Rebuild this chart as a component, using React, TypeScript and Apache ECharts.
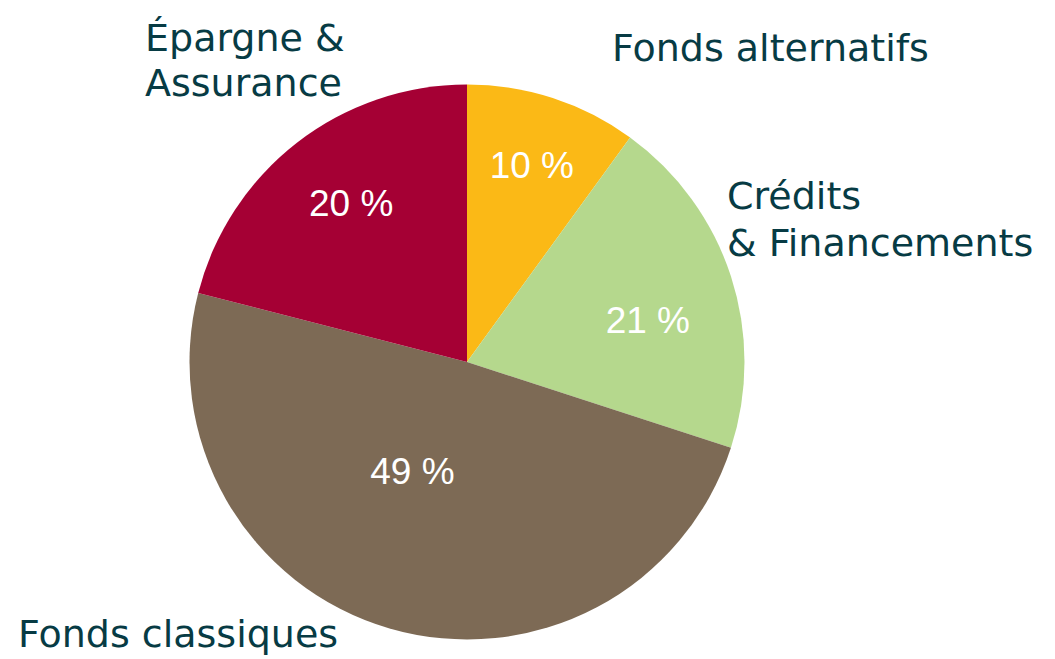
import React, { useEffect, useRef } from "react";
import * as echarts from "echarts";

const categories = ["Fonds alternatifs", "Crédits & Financements", "Fonds classiques", "Épargne & Assurance"];
const values = [10, 20, 49, 21];
const pctLabels = ["10 %", "21 %", "49 %", "20 %"];
const colors = ["#FBB916", "#B5D88D", "#7D6A55", "#A50034"];

// label nudges (layout only)
const labelOffsets = [
  [21, -62],
  [46, 2],
  [-15, -27],
  [-29, -46],
];

const TEXT = "#073B44";
const LABEL_FONT = '38px "DejaVu Sans"';

export default function App() {
  const ref = useRef<HTMLDivElement>(null);
  useEffect(() => {
    if (!ref.current) return;
    const chart = echarts.init(ref.current, undefined, { renderer: "svg" });
    const txt = (text: string, x: number, y: number) => ({
      type: "text",
      style: { text, x, y, font: LABEL_FONT, fill: TEXT, textAlign: "left", textVerticalAlign: "middle" },
    });
    chart.setOption({
      animation: false,
      backgroundColor: "#ffffff",
      series: [
        {
          type: "pie",
          center: [459, 354],
          radius: 277.5,
          startAngle: 90,
          clockwise: true,
          silent: true,
          data: categories.map((name, i) => ({
            name,
            value: values[i],
            itemStyle: { color: colors[i] },
            label: { formatter: pctLabels[i] },
          })),
          label: {
            show: true,
            position: "inside",
            color: "#ffffff",
            fontFamily: '"Liberation Sans Narrow", "Liberation Sans", sans-serif',
            fontSize: 37,
          },
          labelLine: { show: false },
          labelLayout: (p: any) => ({ dx: labelOffsets[p.dataIndex][0], dy: labelOffsets[p.dataIndex][1] }),
        },
      ],
      graphic: [
        txt("Épargne &", 137, 30),
        txt("Assurance", 137, 75),
        txt("Fonds alternatifs", 604, 40),
        txt("Crédits", 719, 188),
        txt("& Financements", 719, 235),
        txt("Fonds classiques", 10, 626),
      ],
    });
    return () => chart.dispose();
  }, []);
  return <div ref={ref} style={{ width: 1039, height: 651 }} />;
}
